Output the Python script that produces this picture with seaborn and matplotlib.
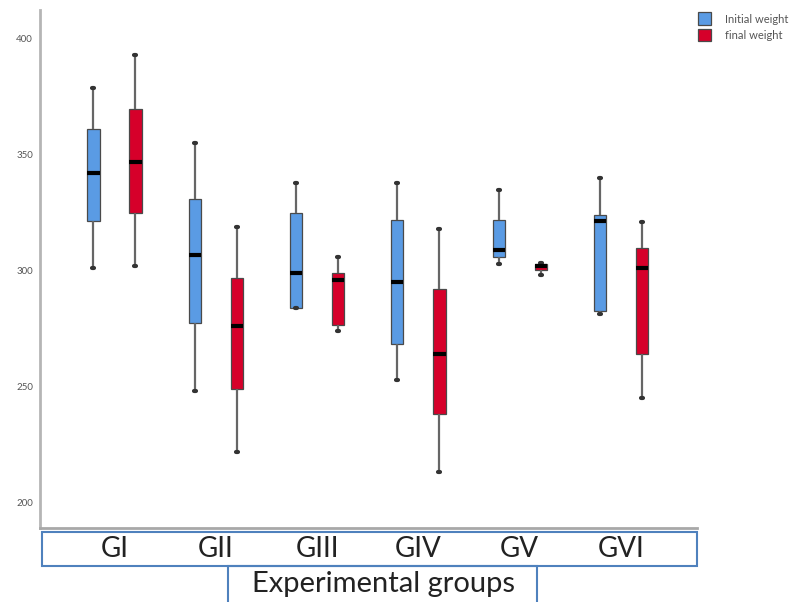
import numpy as np
import pandas as pd
import seaborn as sns
import matplotlib
matplotlib.use("Agg")
import matplotlib.pyplot as plt
from matplotlib.patches import Rectangle

groups = ["GI", "GII", "GIII", "GIV", "GV", "GVI"]
series = ["Initial weight", "final weight"]

# five-number summaries (min, Q1, median, Q3, max)
initial_min = [301, 248, 284, 253, 303, 281.5]
initial_q1 = [321.5, 277.5, 284, 268.5, 306, 282.5]
initial_med = [342, 307, 299, 295, 309, 321.5]
initial_q3 = [361, 331, 325, 322, 322, 324]
initial_max = [379, 355, 338, 338, 335, 340]

final_min = [302, 222, 274, 213, 298, 245]
final_q1 = [325, 249, 276.5, 238, 300.5, 264]
final_med = [347, 276, 296, 264, 302, 301]
final_q3 = [370, 297, 299, 292, 303, 310]
final_max = [393, 319, 306, 318, 303.5, 321]

yticks = [200, 250, 300, 350, 400]

rows = []
summ = {
    "Initial weight": [initial_min, initial_q1, initial_med, initial_q3, initial_max],
    "final weight": [final_min, final_q1, final_med, final_q3, final_max],
}
for gi, g in enumerate(groups):
    for s in series:
        for arr in summ[s]:
            rows.append({"group": g, "series": s, "weight": arr[gi]})
df = pd.DataFrame(rows)

sns.set_theme(style="white")
plt.rcParams["font.family"] = ["Lato", "DejaVu Sans"]

W, H = 809, 602
fig = plt.figure(figsize=(W / 100, H / 100), dpi=100)
ax = fig.add_axes([40 / W, 1 - 528 / H, (697 - 40) / W, (528 - 10) / H])

blue = "#5a9be4"
red = "#d6002a"

sns.boxplot(
    data=df, x="group", y="weight", hue="series", order=groups, hue_order=series,
    palette=[blue, red], saturation=1, whis=np.inf, width=0.83, gap=0.71,
    linewidth=0.9, linecolor="#4a4a4a", showfliers=False,
    medianprops=dict(color="black", linewidth=3, solid_capstyle="butt"),
    whiskerprops=dict(color="#666666", linewidth=1.6),
    capprops=dict(color="#333333", linewidth=3, solid_capstyle="round"),
    ax=ax,
)

for cont in ax.containers:
    try:
        caps = cont.caps
    except AttributeError:
        continue
    for cap in caps:
        xd = np.asarray(cap.get_xdata(), dtype=float)
        c = xd.mean()
        cap.set_xdata([c - 0.01, c + 0.01])

ax.set_xlim(-0.735, 5.75)
ax.set_ylim(189, 412.5)
ax.set_yticks(yticks)
ax.set_yticklabels([str(t) for t in yticks], fontsize=7, color="#555555")
ax.tick_params(axis="y", length=0, pad=5)
ax.tick_params(axis="x", length=0, pad=6, labelsize=20, labelcolor="#222222")
ax.set_ylabel("")
ax.set_xlabel("Experimental groups", fontsize=21, color="#222222")
ax.xaxis.label.set_va("center")
ax.xaxis.set_label_coords((383 - 40) / (697 - 40), -(584 - 528) / (528 - 10))

for side in ["top", "right"]:
    ax.spines[side].set_visible(False)
ax.spines["left"].set_color("#b5b5b5")
ax.spines["left"].set_linewidth(2)
ax.spines["bottom"].set_color("#a8a8a8")
ax.spines["bottom"].set_linewidth(2)

# boxes around tick labels and axis title
edge = "#4f81bd"
fig.patches.append(Rectangle((42 / W, 1 - 566 / H), (697 - 42) / W, (566 - 532) / H,
                             transform=fig.transFigure, fill=False, edgecolor=edge, lw=1.5))
fig.patches.append(Rectangle((228 / W, 1 - 604 / H), (537 - 228) / W, (604 - 566) / H,
                             transform=fig.transFigure, fill=False, edgecolor=edge, lw=1.5))

leg = ax.legend(loc="upper left", bbox_to_anchor=(694 / W, 1 - 8 / H), bbox_transform=fig.transFigure,
                frameon=False, fontsize=8, handlelength=1.1, handleheight=1.4,
                labelspacing=0.3, handletextpad=1.3, borderaxespad=0)
for t in leg.get_texts():
    t.set_color("#555555")

fig.savefig("out.png", dpi=100)
